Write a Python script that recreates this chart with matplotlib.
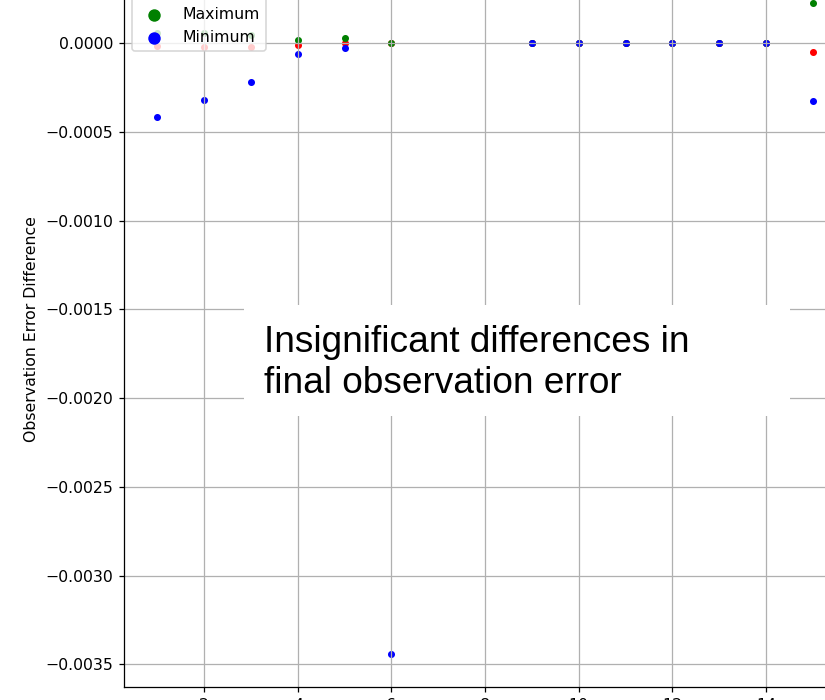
import matplotlib
matplotlib.use("Agg")
import matplotlib.pyplot as plt
from matplotlib.patches import Rectangle

# values (x positions with data)
steps = [1, 2, 3, 4, 5, 6, 9, 10, 11, 12, 13, 14, 15]
mean_diff = [-0.000015, -0.000019, -0.000019, -0.000008, 0.000003, 0.0,
             0.0, 0.0, 0.0, 0.0, 0.0, 0.0, -0.000047]
max_diff = [0.000060, 0.000056, 0.000047, 0.000019, 0.000028, 0.0,
            0.0, 0.0, 0.0, 0.0, 0.0, 0.0, 0.000229]
min_diff = [-0.000417, -0.000321, -0.000219, -0.000059, -0.000025, -0.003444,
            0.0, 0.0, 0.0, 0.0, 0.0, 0.0, -0.000325]

note = "Insignificant differences in\nfinal observation error"

dpi = 113
fig = plt.figure(figsize=(825 / dpi, 700 / dpi), dpi=dpi)
# the reference is a crop: the axes run past the top and right edges
ax = fig.add_axes([0.1508, 0.01857, 0.8742, 1.0241])

ax.scatter(steps, mean_diff, s=12, color="red", label="Mean")
ax.scatter(steps, max_diff, s=12, color="green", label="Maximum")
ax.scatter(steps, min_diff, s=12, color="blue", label="Minimum")

ax.set_ylabel("Observation Error Difference")
ax.grid(True)
ax.legend(loc="upper left", markerscale=2)

# white box with the overlay note
fig.patches.append(Rectangle((244 / 825, 1 - 416 / 700), 546 / 825, 111 / 700,
                             transform=fig.transFigure, facecolor="white",
                             edgecolor="none", zorder=5))
fig.text(264 / 825, 1 - 393 / 700, note, ha="left", va="baseline",
         family="Liberation Sans", fontsize=23.6, linespacing=1.21, zorder=6)

fig.savefig("out.png", dpi=dpi)
